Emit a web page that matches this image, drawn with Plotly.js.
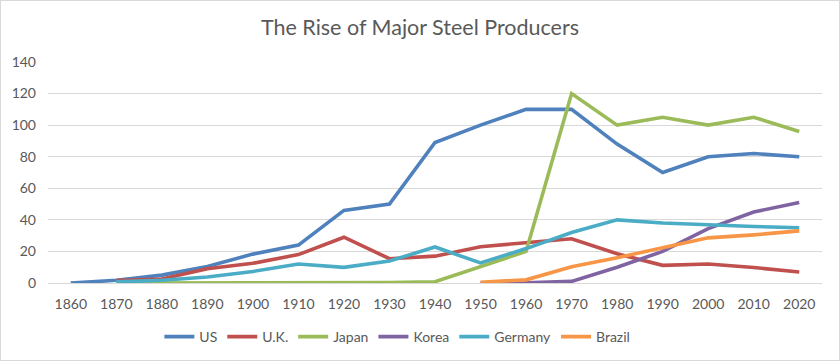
<!DOCTYPE html>
<html><head><meta charset="utf-8">
<script src="https://cdn.plot.ly/plotly-3.0.1.min.js"></script>
<style>
html,body{margin:0;padding:0;background:#fff;}
#chart{width:838px;height:359px;border:1px solid #d9d9d9;}
</style></head>
<body><div id="chart"></div>
<script>
const years = [1860,1870,1880,1890,1900,1910,1920,1930,1940,1950,1960,1970,1980,1990,2000,2010,2020];
const us      = [0,1.7,5,10.5,18.3,24,46,50,89,100,110,110,88,70,80,82,80];
const uk      = [null,1.5,2.5,9,12.5,18,29,15.4,17,23,25.3,28,18.5,11.2,12,9.8,7];
const japan   = [null,0,0,0,0,0,0,0.3,0.8,10.5,20,120,100,105,100,105,96];
const korea   = [null,null,null,null,null,null,null,null,null,0,0.2,1,10,20,34.5,45,51];
const germany = [null,0.7,1.7,3.8,7.3,12,9.9,13.9,22.8,12.7,21.8,32,40,38,36.8,35.8,35];
const brazil  = [null,null,null,null,null,null,null,null,null,0.5,2,10.3,16,22.4,28.6,30.5,33];
const names = ["US","U.K.","Japan","Korea","Germany","Brazil"];
const colors = ["#4F81BD","#C0504D","#9BBB59","#8064A2","#4BACC6","#F79646"];
const series = [us, uk, japan, korea, germany, brazil];

const traces = series.map((s,i)=>({
  x: years, y: s, name: names[i], type:'scatter', mode:'lines',
  line:{color:colors[i], width:3.6}, connectgaps:false, hoverinfo:'skip'
}));

const layout = {
  width:838, height:359,
  margin:{l:47, r:17, t:61, b:77},
  paper_bgcolor:'#fff', plot_bgcolor:'#fff',
  font:{family:'Lato, "Open Sans", sans-serif', color:'#595959', size:14},
  title:{text:'The Rise of Major Steel Producers', x:0.5, xanchor:'center', yref:'container', y:0.925, yanchor:'middle',
         font:{size:21.5, color:'#595959'}},
  xaxis:{range:[1855,2025], tickvals:years, ticktext:years.map(String), showgrid:false,
         showline:true, linecolor:'#d9d9d9', linewidth:1, ticks:'', zeroline:false, automargin:false,
         ticklabelstandoff:8, tickfont:{size:14, color:'#595959'}, fixedrange:true},
  yaxis:{range:[0,140], dtick:20, showgrid:true, gridcolor:'#d9d9d9', gridwidth:1, automargin:false,
         zeroline:false, showline:false, ticks:'', ticklabelstandoff:11, tickfont:{size:14, color:'#595959'}, fixedrange:true},
  showlegend:true,
  legend:{orientation:'h', x:0.473, xanchor:'center', xref:'container', yref:'container', y:0.064, yanchor:'middle',
          font:{size:14, color:'#595959'}, itemwidth:30, traceorder:'normal'}
};
Plotly.newPlot('chart', traces, layout, {displayModeBar:false, staticPlot:true});
</script></body></html>
